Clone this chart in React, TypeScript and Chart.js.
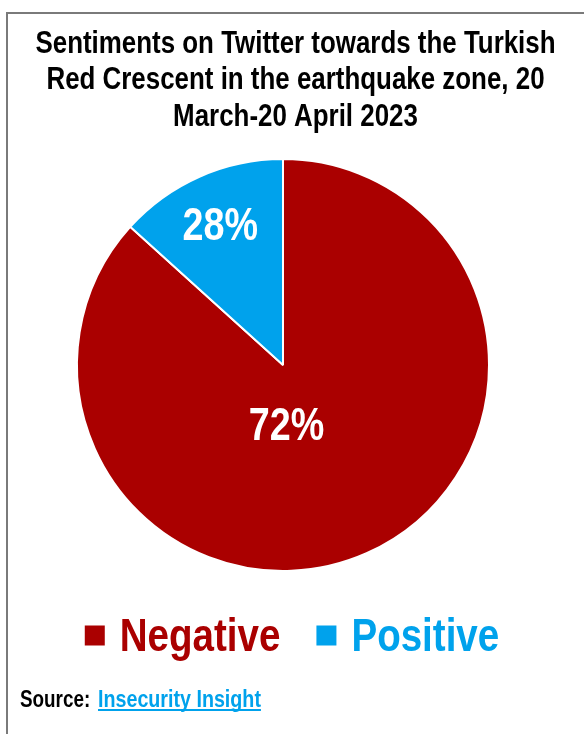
import React, { useEffect, useRef } from "react";
import { Chart, registerables } from "chart.js";

Chart.register(...registerables);

const titleLines = [
  "Sentiments on Twitter towards the Turkish",
  "Red Crescent in the earthquake zone, 20",
  "March-20 April 2023",
];
const categories = ["Negative", "Positive"];
// shares of the circle as drawn in the picture
const drawnShares = [86.7, 13.3];
// percentages printed on the slices
const valueLabels = ["72%", "28%"];
const sliceColors = ["#AA0000", "#00A2EC"];
const sourceLabel = "Source:";
const sourceName = "Insecurity Insight";

let narrowChecked: boolean | null = null;
function hasNarrow(ctx: CanvasRenderingContext2D) {
  if (narrowChecked !== null) return narrowChecked;
  ctx.save();
  ctx.font = "bold 40px monospace";
  const a = ctx.measureText("Negative Positive").width;
  ctx.font = "bold 40px 'Liberation Sans Narrow', monospace";
  const b = ctx.measureText("Negative Positive").width;
  ctx.restore();
  narrowChecked = Math.abs(a - b) > 0.5;
  return narrowChecked;
}

function setFont(ctx: CanvasRenderingContext2D, size: number) {
  if (hasNarrow(ctx)) {
    ctx.font = `bold ${size}px 'Liberation Sans Narrow'`;
    return 1;
  }
  ctx.font = `bold ${size}px 'Liberation Sans', Arial, sans-serif`;
  return 0.82;
}

function measure(ctx: CanvasRenderingContext2D, text: string, size: number) {
  ctx.save();
  const s = setFont(ctx, size);
  const w = ctx.measureText(text).width * s;
  ctx.restore();
  return w;
}

function drawText(
  ctx: CanvasRenderingContext2D,
  text: string,
  x: number,
  baseline: number,
  size: number,
  color: string,
  align: CanvasTextAlign
) {
  ctx.save();
  const s = setFont(ctx, size);
  ctx.fillStyle = color;
  ctx.textAlign = align;
  ctx.textBaseline = "alphabetic";
  ctx.translate(x, baseline);
  ctx.scale(s, 1);
  ctx.fillText(text, 0, 0);
  ctx.restore();
}

const decorPlugin = {
  id: "decor",
  beforeDraw(chart: any) {
    const ctx = chart.ctx as CanvasRenderingContext2D;
    ctx.save();
    ctx.fillStyle = "#ffffff";
    ctx.fillRect(0, 0, chart.width, chart.height);
    ctx.strokeStyle = "#7a7a7a";
    ctx.lineWidth = 2;
    ctx.beginPath();
    ctx.moveTo(7, chart.height + 5);
    ctx.lineTo(7, 13);
    ctx.lineTo(chart.width + 5, 13);
    ctx.stroke();
    ctx.restore();
  },
  afterDatasetsDraw(chart: any) {
    const ctx = chart.ctx as CanvasRenderingContext2D;
    const meta = chart.getDatasetMeta(0);
    const arcs = meta.data as any[];
    // slice value labels
    arcs.forEach((arc, i) => {
      const size = 46;
      let cx: number, cy: number;
      if (i === 1) {
        const mid = (arc.startAngle + arc.endAngle) / 2;
        const r = arc.outerRadius * 0.75;
        cx = arc.x + Math.cos(mid) * r;
        cy = arc.y + Math.sin(mid) * r;
      } else {
        cx = arc.x + arc.outerRadius * 0.017;
        cy = arc.y + arc.outerRadius * 0.285;
      }
      drawText(ctx, valueLabels[i], cx, cy + size * 0.358, size, "#ffffff", "center");
    });
  },
  afterDraw(chart: any) {
    const ctx = chart.ctx as CanvasRenderingContext2D;
    // title
    const titleBaselines = [52.5, 89.3, 126];
    titleLines.forEach((line, i) => {
      drawText(ctx, line, 295.5, titleBaselines[i], 31.6, "#000000", "center");
    });
    // legend
    const fs = 47;
    const box = 20;
    const gap = 15;
    const itemGap = 36;
    const widths = categories.map((c) => measure(ctx, c, fs));
    const total =
      widths.reduce((a, b) => a + b, 0) + categories.length * (box + gap) + itemGap * (categories.length - 1);
    let x = 292 - total / 2;
    const baseline = 651;
    categories.forEach((c, i) => {
      ctx.save();
      ctx.fillStyle = sliceColors[i];
      ctx.fillRect(x, 625.5, box, box);
      ctx.restore();
      x += box + gap;
      drawText(ctx, c, x, baseline, fs, sliceColors[i], "left");
      x += widths[i] + itemGap;
    });
    // source
    drawText(ctx, sourceLabel, 20, 707, 23, "#000000", "left");
    const lx = 98;
    const linkSize = 24;
    drawText(ctx, sourceName, lx, 707, linkSize, "#00A2EC", "left");
    const lw = measure(ctx, sourceName, linkSize);
    ctx.save();
    ctx.fillStyle = "#00A2EC";
    ctx.fillRect(lx, 709, lw, 2);
    ctx.restore();
  },
};

export default function App() {
  const ref = useRef<HTMLCanvasElement | null>(null);
  useEffect(() => {
    if (!ref.current) return;
    const chart = new Chart(ref.current, {
      type: "pie",
      data: {
        labels: categories,
        datasets: [
          {
            data: drawnShares,
            backgroundColor: sliceColors,
            borderColor: "#ffffff",
            borderWidth: 2,
            hoverOffset: 0,
          },
        ],
      },
      options: {
        animation: false,
        responsive: false,
        devicePixelRatio: 1,
        events: [],
        layout: { padding: { top: 158, bottom: 162, left: 0, right: 18 } },
        plugins: {
          legend: { display: false },
          title: { display: false },
          tooltip: { enabled: false },
        },
      },
      plugins: [decorPlugin],
    });
    return () => chart.destroy();
  }, []);
  return (
    <div style={{ position: "absolute", left: 0, top: 0, width: 584, height: 734, background: "#fff" }}>
      <canvas ref={ref} width={584} height={734} style={{ width: 584, height: 734, display: "block" }} />
    </div>
  );
}
